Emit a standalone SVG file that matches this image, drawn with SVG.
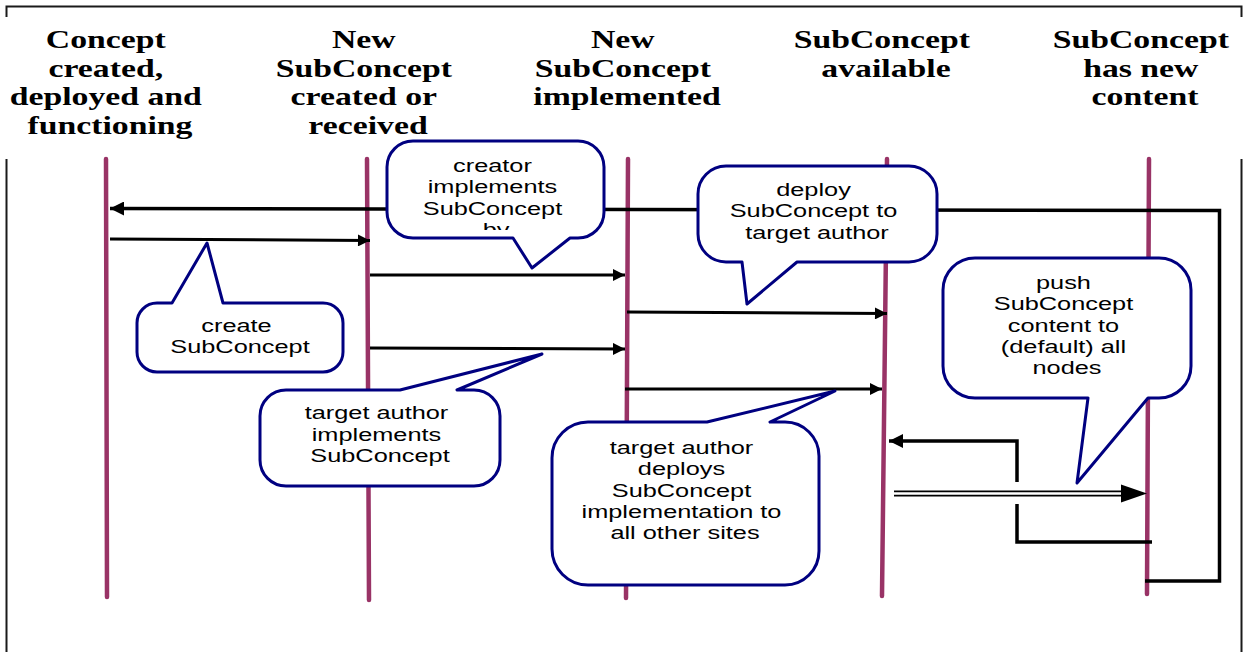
<svg xmlns="http://www.w3.org/2000/svg" width="1247" height="652" viewBox="0 0 1247 652">
  <style>
    .frame { fill: none; stroke: #1a1a1a; stroke-width: 2; }
    .hdr { font-family: "Liberation Serif", "Times New Roman", serif; font-weight: bold; font-size: 25px; fill: #000; text-anchor: middle; }
    .life { stroke: #993366; stroke-width: 4.5; stroke-linecap: round; fill: none; }
    .msg { fill: none; stroke: #000; stroke-width: 3; }
    .msg-thick { fill: none; stroke: #000; stroke-width: 3.5; }
    .bubble { fill: #fff; stroke: #000080; stroke-width: 3; stroke-linejoin: round; }
    .cl { font-family: "Liberation Sans", Arial, sans-serif; font-size: 18.5px; fill: #000; text-anchor: middle; }
  </style>
  <defs>
    <marker id="arrow" viewBox="0 0 10 10" refX="10" refY="5" markerWidth="5" markerHeight="4" markerUnits="strokeWidth" orient="auto">
      <path d="M0,0 L10,5 L0,10 Z" fill="#000"/>
    </marker>
    <clipPath id="clip-creator">
      <rect x="387" y="141" width="217" height="89"/>
    </clipPath>
  </defs>

  <rect width="1247" height="652" fill="#fff"/>

  <!-- outer frame, open beside the column titles -->
  <g id="frame">
    <path class="frame" d="M6.5,17 V6.5 H1241.5 V17"/>
    <path class="frame" d="M6.5,159 V652"/>
    <path class="frame" d="M1241.5,159 V652"/>
  </g>

  <!-- column titles -->
  <g id="header-concept">
    <text class="hdr" transform="translate(110 0) scale(1.35 1)">
      <tspan x="0" y="48">Concept</tspan>
      <tspan x="0" y="77">created,</tspan>
      <tspan x="0" y="105.5">deployed and</tspan>
      <tspan x="0" y="134">functioning</tspan>
    </text>
  </g>
  <g id="header-new-created">
    <text class="hdr" transform="translate(368 0) scale(1.35 1)">
      <tspan x="0" y="48">New</tspan>
      <tspan x="0" y="77">SubConcept</tspan>
      <tspan x="0" y="105.5">created or</tspan>
      <tspan x="0" y="134">received</tspan>
    </text>
  </g>
  <g id="header-new-implemented">
    <text class="hdr" transform="translate(627 0) scale(1.35 1)">
      <tspan x="0" y="48">New</tspan>
      <tspan x="0" y="77">SubConcept</tspan>
      <tspan x="0" y="105.5">implemented</tspan>
    </text>
  </g>
  <g id="header-available">
    <text class="hdr" transform="translate(886 0) scale(1.35 1)">
      <tspan x="0" y="48">SubConcept</tspan>
      <tspan x="0" y="77">available</tspan>
    </text>
  </g>
  <g id="header-content">
    <text class="hdr" transform="translate(1145 0) scale(1.35 1)">
      <tspan x="0" y="48">SubConcept</tspan>
      <tspan x="0" y="77">has new</tspan>
      <tspan x="0" y="105.5">content</tspan>
    </text>
  </g>

  <!-- lifelines -->
  <g id="lifelines">
    <line class="life" x1="106" y1="159" x2="107" y2="597"/>
    <line class="life" x1="367" y1="159" x2="369" y2="600"/>
    <line class="life" x1="628" y1="159" x2="626" y2="598"/>
    <line class="life" x1="887" y1="159" x2="882" y2="596"/>
    <line class="life" x1="1149" y1="159" x2="1147" y2="594"/>
  </g>

  <!-- connectors -->
  <g id="connectors">
    <path class="msg-thick" d="M1145,581 H1219.5 V210.5 L110,208.5" marker-end="url(#arrow)"/>
    <path class="msg" d="M110,239 L370,240.5" marker-end="url(#arrow)"/>
    <path class="msg" d="M370,275 H625" marker-end="url(#arrow)"/>
    <path class="msg" d="M627,312 L887,313.5" marker-end="url(#arrow)"/>
    <path class="msg" d="M370,348 L625,349" marker-end="url(#arrow)"/>
    <path class="msg" d="M625,389 H882" marker-end="url(#arrow)"/>
    <path class="msg-thick" d="M1152,542 H1017 V504"/>
    <path class="msg-thick" d="M1017,482 V441 H889" marker-end="url(#arrow)"/>
    <!-- double-line push to all nodes -->
    <line x1="894" y1="493.5" x2="1124" y2="493.5" stroke="#000" stroke-width="6"/>
    <line x1="894" y1="493.5" x2="1126" y2="493.5" stroke="#fff" stroke-width="2.3"/>
    <path d="M1121,484.5 L1147,493.5 L1121,502.5 Z" fill="#000"/>
  </g>

  <!-- callouts -->
  <g id="callout-create">
    <path class="bubble" d="M157,303 H172 L207,243 L223,303 H323 A20,20 0 0 1 343,323 V352 A20,20 0 0 1 323,372 H157 A20,20 0 0 1 137,352 V323 A20,20 0 0 1 157,303 Z"/>
    <text class="cl" transform="translate(240 0) scale(1.37 1)">
      <tspan x="0" y="332">create</tspan>
      <tspan x="0" y="353.5">SubConcept</tspan>
    </text>
  </g>

  <g id="callout-creator-implements">
    <path class="bubble" d="M413,141 H578 A26,26 0 0 1 604,167 V212 A26,26 0 0 1 578,238 H570 L532,268 L513,238 H413 A26,26 0 0 1 387,212 V167 A26,26 0 0 1 413,141 Z"/>
    <g clip-path="url(#clip-creator)">
      <text class="cl" transform="translate(496 0) scale(1.37 1)">
        <tspan x="0" y="172">creator</tspan>
        <tspan x="0" y="193.3">implements</tspan>
        <tspan x="0" y="214.6">SubConcept</tspan>
        <tspan x="0" y="236">by</tspan>
      </text>
    </g>
  </g>

  <g id="callout-deploy">
    <path class="bubble" d="M726,166 H909 A28,28 0 0 1 937,194 V234 A28,28 0 0 1 909,262 H797 L747,304 L742,262 H726 A28,28 0 0 1 698,234 V194 A28,28 0 0 1 726,166 Z"/>
    <text class="cl" transform="translate(817 0) scale(1.37 1)">
      <tspan x="0" y="196">deploy</tspan>
      <tspan x="0" y="217.5">SubConcept to</tspan>
      <tspan x="0" y="239">target author</tspan>
    </text>
  </g>

  <g id="callout-push">
    <path class="bubble" d="M975,258 H1159 A32,32 0 0 1 1191,290 V366 A32,32 0 0 1 1159,398 H1148 L1077,483 L1088,398 H975 A32,32 0 0 1 943,366 V290 A32,32 0 0 1 975,258 Z"/>
    <text class="cl" transform="translate(1067 0) scale(1.37 1)">
      <tspan x="0" y="289">push</tspan>
      <tspan x="0" y="310.5">SubConcept</tspan>
      <tspan x="0" y="332">content to</tspan>
      <tspan x="0" y="353">(default) all</tspan>
      <tspan x="0" y="374.5">nodes</tspan>
    </text>
  </g>

  <g id="callout-target-implements">
    <path class="bubble" d="M286,390 H400 L542,354 L457,390 H474 A26,26 0 0 1 500,416 V460 A26,26 0 0 1 474,486 H286 A26,26 0 0 1 260,460 V416 A26,26 0 0 1 286,390 Z"/>
    <text class="cl" transform="translate(380 0) scale(1.37 1)">
      <tspan x="0" y="419.5">target author</tspan>
      <tspan x="0" y="441">implements</tspan>
      <tspan x="0" y="462">SubConcept</tspan>
    </text>
  </g>

  <g id="callout-target-deploys">
    <path class="bubble" d="M588,422 H707 L835,391 L770,422 H785 A34,34 0 0 1 819,456 V551 A34,34 0 0 1 785,585 H588 A36,36 0 0 1 552,549 V458 A36,36 0 0 1 588,422 Z"/>
    <text class="cl" transform="translate(685 0) scale(1.37 1)">
      <tspan x="0" y="454">target author</tspan>
      <tspan x="0" y="475.5">deploys</tspan>
      <tspan x="0" y="497">SubConcept</tspan>
      <tspan x="0" y="518">implementation to</tspan>
      <tspan x="0" y="539.5">all other sites</tspan>
    </text>
  </g>
</svg>
